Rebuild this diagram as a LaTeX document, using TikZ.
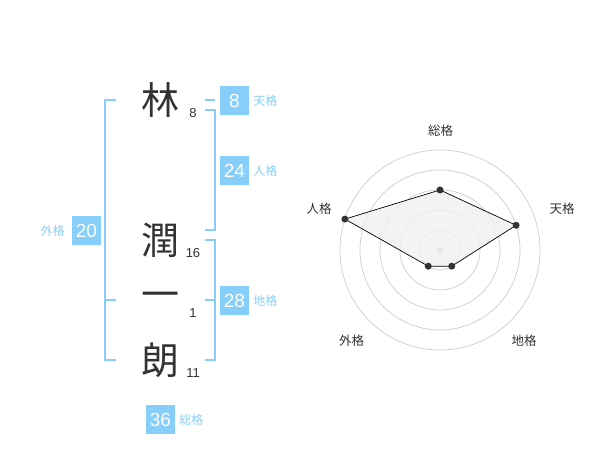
\documentclass[tikz,border=0pt]{standalone}
\usepackage{fontspec}
\setmainfont{Liberation Sans}
\newfontfamily\jpfont{Noto Sans CJK JP}
\usepackage{tikz}
\usetikzlibrary{positioning,calc}
\definecolor{skyblue}{HTML}{87CEFA}
\definecolor{charcol}{HTML}{333333}
\definecolor{ringgray}{HTML}{CCCCCC}
\definecolor{areagray}{HTML}{F0F0F0}
\tikzset{%
  kanji/.style={font=\jpfont\fontsize{38}{38}\selectfont,text=charcol,inner sep=0pt},
  stroke/.style={font=\fontsize{13}{13}\selectfont,text=charcol,inner sep=0pt},
  score/.style={fill=skyblue,text=white,minimum width=29pt,minimum height=29pt,inner sep=0pt,font=\fontsize{19}{19}\selectfont},
  kaku/.style={font=\jpfont\fontsize{12}{12}\selectfont,text=skyblue,inner sep=0pt},
  bracket/.style={draw=skyblue,line width=2pt},
  axis/.style={font=\jpfont\fontsize{12.5}{12.5}\selectfont,text=charcol,inner sep=0pt},
  ring/.style={draw=ringgray,line width=0.7pt},
  dot/.style={circle,fill=charcol,inner sep=0pt,minimum size=7pt},
}
\begin{document}
\begin{tikzpicture}[x=1pt,y=-1pt]
  \useasboundingbox (0,0) rectangle (600,470);

  % name
  \node[kanji] (lin) at (160,100) {林};
  \node[kanji] (jun) at (160,240) {潤};
  \node[kanji] (ichi) at (160,300) {一};
  \node[kanji] (rou) at (160,360) {朗};
  \node[stroke] (linN) at (193,113) {8};
  \node[stroke] (junN) at (193,253) {16};
  \node[stroke] (ichiN) at (193,313) {1};
  \node[stroke] (rouN) at (193,373) {11};

  % scores
  \node[score] (ten) at (234.5,101) {8};
  \node[score] (jin) at (234.5,170.5) {24};
  \node[score] (chi) at (234.5,300.5) {28};
  \node[score] (gai) at (86.5,230.5) {20};
  \node[score] (sou) at (160.5,419.5) {36};
  \node[kaku,right=4pt of ten] (tenL) {天格};
  \node[kaku,right=4pt of jin] (jinL) {人格};
  \node[kaku,right=4pt of chi] (chiL) {地格};
  \node[kaku,left=7pt of gai] (gaiL) {外格};
  \node[kaku,right=4pt of sou] (souL) {総格};

  % brackets
  \coordinate (g1) at (116,100);
  \coordinate (g2) at (116,300);
  \coordinate (g3) at (116,360);
  \draw[bracket] (g1) -| (105,360) -- (g3);
  \draw[bracket] (105,300) -- (g2);
  \coordinate (t1) at (205,100);
  \draw[bracket] (t1) -- (215,100);
  \coordinate (j1) at (205,110);
  \coordinate (j2) at (205,230);
  \draw[bracket] (j1) -| (215,230) -- (j2);
  \coordinate (c1) at (205,240);
  \coordinate (c2) at (205,300);
  \coordinate (c3) at (205,360);
  \draw[bracket] (c1) -| (215,360) -- (c3);
  \draw[bracket] (215,300) -- (c2);

  % radar
  \begin{scope}[shift={(440,250)},y=1pt]
    \foreach \r in {20,40,60,80,100}
      \draw[ring] (0,0) circle (\r);
    \fill[ringgray] (0,0) circle (3.5);
    \coordinate (pSou) at (90:60);
    \coordinate (pTen) at (18:80);
    \coordinate (pChi) at (-54:20);
    \coordinate (pGai) at (-126:20);
    \coordinate (pJin) at (162:100);
    \draw[fill=areagray,fill opacity=0.8,draw=black,line width=0.7pt]
      (pSou) -- (pTen) -- (pChi) -- (pGai) -- (pJin) -- cycle;
    \foreach \p in {pSou,pTen,pChi,pGai,pJin}
      \node[dot] at (\p) {};
    \node[axis] (aSou) at (0.7,119.3) {総格};
    \node[axis] (aTen) at (122,41) {天格};
    \node[axis] (aChi) at (84,-91) {地格};
    \node[axis] (aGai) at (-88.3,-91) {外格};
    \node[axis] (aJin) at (-121,41) {人格};
  \end{scope}
\end{tikzpicture}
\end{document}
